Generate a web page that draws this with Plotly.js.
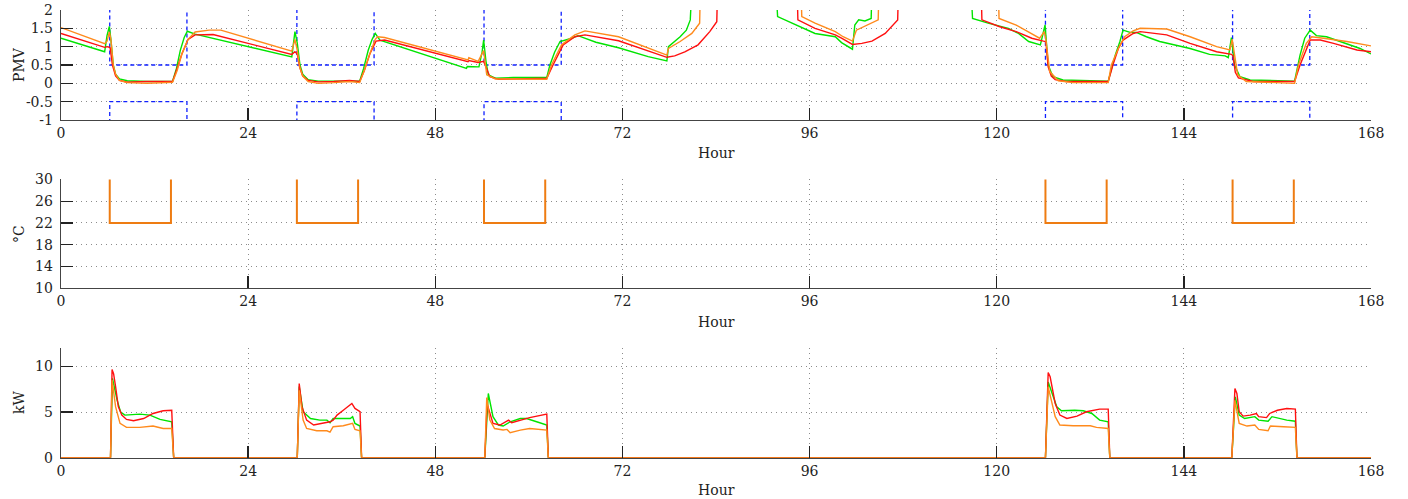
<!DOCTYPE html>
<html>
<head>
<meta charset="utf-8">
<script src="https://cdn.plot.ly/plotly-3.0.1.min.js"></script>
<style>html,body{margin:0;padding:0;background:#fff;}#chart{width:1408px;height:499px;}</style>
</head>
<body>
<div id="chart"></div>
<script>
// ---------- PMV (top panel) ----------
const pmvGreenX = [0,5.6,5.9,6.2,6.4,6.7,7.0,7.5,8.5,11,14.3,14.8,15.3,15.8,16.2,17.2,29.6,
  29.8,30.0,30.3,30.65,31.0,31.7,33,36,38.3,38.8,39.4,39.9,40.3,40.9,52.0,52.1,53.6,54.0,54.2,
  54.5,54.8,55.7,58,62.3,62.7,63.3,64.0,65.5,66.3,68.6,71.5,75.3,77.7,77.9,79.4,80.2,80.7,80.9,
  91.7,91.9,94.6,96.7,99.3,100.1,101.5,101.8,102.3,103.1,103.9,104.0,
  116.7,116.9,118.9,121.5,122.8,124.1,125.6,126.2,126.6,127.2,128.5,134.3,135.2,135.8,136.2,137.1,137.9,
  139.2,140.9,142.6,144.8,147.3,149.3,149.7,150.1,150.5,151.2,152.5,158.2,158.9,159.5,160.2,161.0,162.3,164,166.6,168];
const pmvGreenY = [1.23,0.86,1.3,1.55,1.2,0.5,0.25,0.12,0.07,0.05,0.05,0.4,0.9,1.25,1.42,1.34,0.72,
  1.0,1.41,1.1,0.5,0.25,0.1,0.06,0.05,0.06,0.4,0.9,1.2,1.36,1.18,0.41,0.46,0.45,0.85,1.18,
  0.6,0.23,0.14,0.16,0.16,0.5,0.85,1.14,1.23,1.3,1.12,0.97,0.73,0.61,1.0,1.27,1.45,1.73,2.6,
  2.6,1.82,1.55,1.36,1.27,1.11,0.93,1.59,1.73,1.7,1.77,2.6,
  2.6,1.77,1.64,1.5,1.36,1.14,1.05,1.59,0.5,0.18,0.09,0.06,0.77,1.14,1.45,1.39,1.39,
  1.27,1.14,1.05,0.95,0.79,0.75,0.7,1.25,0.5,0.18,0.09,0.06,0.77,1.23,1.45,1.3,1.27,1.14,0.95,0.8];

const pmvRedX = [0,5.6,6.0,6.3,6.6,7.0,7.5,8.5,11,14.3,14.8,15.5,16.3,17.2,19.5,29.6,
  30.0,30.3,30.6,31.0,31.7,33,35,37,38.3,38.9,39.6,40.4,41.5,52.2,52.3,53.5,54.2,
  54.6,55.0,56.1,62.3,63.1,64.4,65.9,67.2,71.5,77.7,78.7,80.0,81.7,83.2,84.1,84.2,
  94.4,94.5,96.7,99.3,100.1,101.5,102.7,104.0,105.7,107.3,107.4,
  118.0,118.1,120.3,122.5,124.5,126.0,126.3,126.6,127.0,127.5,128.9,134.3,134.9,135.6,136.2,137.5,138.4,
  141.8,144.8,148.2,150.1,150.3,150.6,151.0,152.9,158.2,158.9,160.2,161.5,163.2,166.2,168];
const pmvRedY = [1.36,0.98,1.0,0.97,0.5,0.2,0.08,0.03,0.05,0.05,0.35,0.8,1.2,1.32,1.33,0.79,
  0.86,0.8,0.45,0.2,0.08,0.04,0.05,0.08,0.05,0.35,0.8,1.15,1.18,0.59,0.62,0.57,0.6,
  0.4,0.18,0.11,0.14,0.5,1.05,1.27,1.32,1.16,0.71,0.75,0.86,1.05,1.41,1.68,2.6,
  2.6,1.73,1.5,1.32,1.23,1.06,1.09,1.15,1.36,1.73,2.6,
  2.6,1.73,1.55,1.41,1.23,1.15,1.14,0.45,0.2,0.1,0.05,0.05,0.5,0.95,1.18,1.36,1.41,
  1.32,1.09,0.86,0.79,0.75,0.3,0.15,0.05,0.05,0.5,1.18,1.18,1.09,0.91,0.86];

const pmvOrangeX = [0,5.6,5.9,6.2,6.4,6.7,7.0,7.5,8.5,11,14.3,14.9,15.5,16.3,17.2,19,20.5,29.6,
  30.0,30.3,30.6,31.0,31.7,33,35,37,38.3,38.9,39.6,40.3,40.6,41.5,52.2,52.3,53.5,54.0,54.2,
  54.6,55.7,62.3,62.9,64.2,65.9,67.2,71.5,77.7,77.9,79.4,80.9,81.9,82.0,
  94.9,95.0,96.7,99.3,100.3,101.5,102.0,103.5,104.8,104.9,
  120.2,120.3,122.5,124.0,125.5,126.1,126.3,126.8,127.9,129.8,134.3,134.7,135.6,136.4,137.5,138.4,
  141.8,144.8,148.2,149.9,150.2,150.9,152.0,158.2,158.7,159.7,160.4,161.9,164.9,168];
const pmvOrangeY = [1.52,1.08,1.15,1.4,1.2,0.5,0.25,0.08,0.02,0.0,0.03,0.35,0.8,1.2,1.4,1.45,1.45,0.88,
  1.2,0.9,0.45,0.2,0.05,0.0,0.02,0.05,0.02,0.35,0.8,1.2,1.27,1.25,0.64,0.7,0.6,0.8,0.89,
  0.23,0.12,0.11,0.5,1.05,1.32,1.43,1.27,0.77,0.95,1.14,1.36,1.64,2.6,
  2.6,1.82,1.64,1.41,1.27,1.15,1.45,1.59,1.73,2.6,
  2.6,1.77,1.59,1.41,1.23,1.41,1.2,0.32,0.07,0.02,0.02,0.5,0.95,1.27,1.43,1.5,
  1.48,1.27,1.0,0.91,1.2,0.23,0.05,0.0,0.5,1.09,1.27,1.23,1.14,1.02];

// comfort band (blue dashed)
const bandX     = [0,6.25,16.15,30.25,40.15,54.25,64.15,126.25,136.15,150.25,160.15,168];
const bandUpper = [3,0.5,3,0.5,3,0.5,3,0.5,3,0.5,3,3];
const bandLower = [-3,-0.5,-3,-0.5,-3,-0.5,-3,-0.5,-3,-0.5,-3,-3];

// ---------- setpoint (middle panel) ----------
const setX = [0,6.25,14.1,30.25,38.1,54.25,62.1,126.25,134.1,150.25,158.1,168];
const setY = [40,22,40,22,40,22,40,22,40,22,40,40];

// ---------- power (bottom panel) ----------
const kwGreenX = [0,6.35,6.6,7.2,7.65,8.2,10.1,11.4,12.7,14.2,14.45,
  30.3,30.55,31.05,32.0,33.2,34.1,34.5,34.9,37.1,37.4,37.7,38.35,38.55,
  54.35,54.8,55.4,56.1,56.7,57.6,58.9,59.7,61.0,62.3,62.5,
  126.25,126.6,127.7,128.3,130.0,131.1,132.2,133.2,134.3,134.5,
  150.15,150.6,151.1,151.8,153.1,153.6,154.8,155.3,156.3,157.2,158.3,158.5,168];
const kwGreenY = [0,0,8.7,6.3,5.0,4.67,4.78,4.67,4.2,3.94,0,
  0,7.8,5.04,4.3,4.12,4.12,3.83,4.3,4.3,4.5,3.76,3.47,0,
  0,7.04,4.5,3.58,3.47,3.94,4.3,4.3,3.94,3.58,0,
  0,8.3,5.58,5.15,5.2,5.15,4.85,4.12,3.94,0,
  0,6.68,4.67,4.3,4.5,4.12,4.0,4.5,4.3,4.12,4.0,0,0];

const kwRedX = [0,6.35,6.55,6.75,7.0,7.35,7.8,8.4,9.3,10.6,11.8,13.1,14.2,14.45,
  30.3,30.55,30.9,31.5,32.4,33.6,34.5,34.9,35.4,36.2,37.3,37.7,38.35,38.55,
  54.35,54.65,55.4,56.3,57.4,57.8,58.9,60.1,62.3,62.5,
  126.25,126.6,126.85,127.5,128.1,129.0,130.3,131.5,133.2,134.3,134.5,
  150.15,150.55,150.8,151.1,151.6,152.5,153.3,153.6,154.6,155.0,156.0,157.2,158.3,158.5,168];
const kwRedY = [0,0,9.67,9.2,7.8,5.6,4.67,4.2,4.05,4.3,4.85,5.15,5.2,0,
  0,8.14,5.6,4.12,3.58,3.76,3.94,4.12,4.67,5.2,5.95,5.4,5.04,0,
  0,5.9,3.76,3.58,4.12,3.83,4.12,4.4,4.78,0,
  0,9.34,8.87,5.95,4.67,4.3,4.56,5.04,5.33,5.33,0,
  0,7.6,7.04,5.04,4.56,4.67,4.85,4.5,4.4,4.85,5.2,5.4,5.33,0,0];

const kwOrangeX = [0,6.35,6.55,7.0,7.57,8.4,10.1,11.8,13.1,14.2,14.45,
  30.3,30.55,31.05,31.5,32.8,34.1,34.5,34.9,36.2,37.4,37.7,38.35,38.55,
  54.35,54.6,55.0,55.6,56.7,57.2,57.6,58.9,60.1,62.3,62.5,
  126.25,126.6,127.5,128.1,129.8,132.0,132.8,134.3,134.5,
  150.15,150.55,151.1,152.1,153.1,153.6,154.8,155.1,156.8,158.3,158.5,168];
const kwOrangeY = [0,0,8.5,5.6,3.76,3.32,3.32,3.47,3.2,3.2,0,
  0,7.4,4.12,3.2,2.95,2.95,2.8,3.4,3.5,3.76,3.1,2.95,0,
  0,6.6,4.12,3.2,3.03,3.1,2.74,3.03,3.2,3.03,0,
  0,7.77,4.5,3.58,3.5,3.5,3.32,3.2,0,
  0,6.3,3.76,3.47,3.58,3.1,2.95,3.47,3.4,3.32,0,0];

// ---------- ticks & titles ----------
const hourTicks = [0,24,48,72,96,120,144,168];
const pmvTicks = [-1,-0.5,0,0.5,1,1.5,2];
const pmvTickText = ['-1','-0.5','0','0.5','1','1.5','2'];
const degTicks = [10,14,18,22,26,30];
const kwTicks = [0,5,10];
const xTitle = 'Hour';
const yTitles = ['PMV','°C','kW'];

const GREEN = '#00E400', RED = '#FF1010', ORANGE = '#FF8A1C', BLUE = '#1020FF', SETORANGE = '#EE7C12';
const W = 1.4;

const traces = [
  {x: bandX, y: bandUpper, xaxis:'x', yaxis:'y', mode:'lines', line:{color:BLUE, width:1.3, dash:'4px,3px', shape:'hv'}},
  {x: bandX, y: bandLower, xaxis:'x', yaxis:'y', mode:'lines', line:{color:BLUE, width:1.3, dash:'4px,3px', shape:'hv'}},
  {x: pmvGreenX, y: pmvGreenY, xaxis:'x', yaxis:'y', mode:'lines', line:{color:GREEN, width:W}},
  {x: pmvRedX, y: pmvRedY, xaxis:'x', yaxis:'y', mode:'lines', line:{color:RED, width:W}},
  {x: pmvOrangeX, y: pmvOrangeY, xaxis:'x', yaxis:'y', mode:'lines', line:{color:ORANGE, width:W}},
  {x: setX, y: setY, xaxis:'x2', yaxis:'y2', mode:'lines', line:{color:SETORANGE, width:2, shape:'hv'}},
  {x: kwGreenX, y: kwGreenY, xaxis:'x3', yaxis:'y3', mode:'lines', line:{color:GREEN, width:W}},
  {x: kwRedX, y: kwRedY, xaxis:'x3', yaxis:'y3', mode:'lines', line:{color:RED, width:W}},
  {x: kwOrangeX, y: kwOrangeY, xaxis:'x3', yaxis:'y3', mode:'lines', line:{color:ORANGE, width:W}}
];

const FONT = {family:'"DejaVu Serif", serif', size:14, color:'#222'};
const GRID = {showgrid:true, gridcolor:'#8c8c8c', griddash:'1px,4px', gridwidth:1};

function xax(anchor){
  return Object.assign({
    anchor: anchor, domain:[0,1], range:[0,168], tickvals: hourTicks,
    ticks:'inside', ticklen:12, tickcolor:'#222', tickwidth:1.3,
    showline:true, linecolor:'#444', linewidth:1.3, zeroline:false,
    tickfont: FONT, automargin:false
  }, GRID);
}
function yax(anchor, dom, range, tv, tt){
  const o = Object.assign({
    anchor: anchor, domain: dom, range: range, tickvals: tv,
    ticks:'inside', ticklen:12, tickcolor:'#222', tickwidth:1.3,
    showline:true, linecolor:'#444', linewidth:1.3, zeroline:false,
    tickfont: FONT, automargin:false, ticklabelstandoff:4
  }, GRID);
  if (tt) o.ticktext = tt;
  return o;
}

// axis titles placed as annotations for exact positioning
const H = 499, L = 61, PW = 1310;
function ann(text, px, py, rot){
  return {text: text, xref:'paper', yref:'paper', x:(px - L)/PW, y:1 - py/H,
          showarrow:false, font:FONT, textangle: rot||0, xanchor:'center', yanchor:'middle'};
}
const annotations = [
  ann(xTitle, 716, 153), ann(xTitle, 716, 322), ann(xTitle, 716, 490),
  ann(yTitles[0], 19, 65, -90), ann(yTitles[1], 19, 234, -90), ann(yTitles[2], 19, 403, -90)
];

const layout = {
  width:1408, height:499,
  margin:{l:61, r:37, t:0, b:0},
  paper_bgcolor:'#fff', plot_bgcolor:'#fff',
  showlegend:false,
  font: FONT,
  xaxis: xax('y'),
  xaxis2: xax('y2'),
  xaxis3: xax('y3'),
  yaxis: yax('x', [0.7595,0.98], [-1,2], pmvTicks, pmvTickText),
  yaxis2: yax('x2', [0.4228,0.6403], [10,30], degTicks, null),
  yaxis3: yax('x3', [0.0828,0.3020], [0,12], kwTicks, null),
  annotations: annotations
};

Plotly.newPlot('chart', traces, layout, {staticPlot:true, displayModeBar:false});
</script>
</body>
</html>
